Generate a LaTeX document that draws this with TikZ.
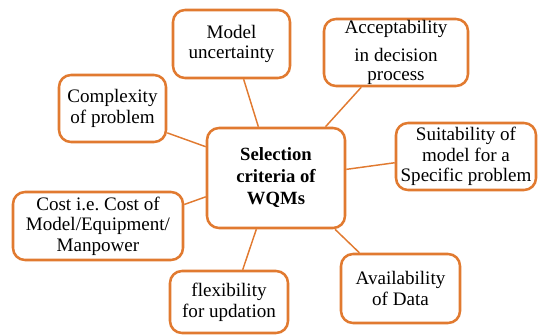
\documentclass[tikz,border=0pt]{standalone}
\usepackage{fontspec}
\setmainfont{Liberation Serif}
\definecolor{boxorange}{RGB}{225,122,48}
\tikzset{
	crit/.style={draw=boxorange, line width=1.9pt, rounded corners=9pt, align=center, inner sep=0pt, font=\fontsize{14.3}{15.5}\selectfont},
	hub/.style={crit, font=\fontsize{14}{16.5}\selectfont\bfseries},
	link/.style={draw=boxorange, line width=1.1pt}
}

\begin{document}
\begin{tikzpicture}[x=0.75pt,y=-0.75pt]
	\def \px{ 0.75pt }
	\useasboundingbox (0,0) rectangle (538,335);
	\node[hub, minimum width=138*\px, minimum height=100*\px] (sel) at (276,178) {Selection\\criteria of\\WQMs};
	\node[crit, minimum width=117*\px, minimum height=68*\px] (mu) at (231.5,44) {Model\\uncertainty};
	\node[crit, minimum width=107*\px, minimum height=67*\px] (cx) at (112.5,108.5) {Complexity\\of problem};
	\node[crit, minimum width=144*\px, minimum height=67*\px] (acc) at (396,52.5) {Acceptability\\[5pt]in decision\\[-1pt]process};
	\node[crit, minimum width=140*\px, minimum height=67*\px] (suit) at (466,156.5) {Suitability of\\model for a\\Specific problem};
	\node[crit, minimum width=170*\px, minimum height=68*\px] (cost) at (98,226) {Cost i.e.\ Cost of\\Model/Equipment/\\Manpower};
	\node[crit, minimum width=118*\px, minimum height=62*\px] (flex) at (229,302) {flexibility\\for updation};
	\node[crit, minimum width=119*\px, minimum height=69*\px] (avail) at (400.5,288.5) {Availability\\of Data};
	\draw[link] (mu.-71) -- (sel.109);
	\draw[link] (cx.-24) -- (sel.156);
	\draw[link] (acc.225) -- (sel.46);
	\draw[link] (suit.185) -- (sel.7);
	\draw[link] (cost.14) -- (sel.195);
	\draw[link] (flex.67) -- (sel.249);
	\draw[link] (avail.139) -- (sel.319);
\end{tikzpicture}
\end{document}
